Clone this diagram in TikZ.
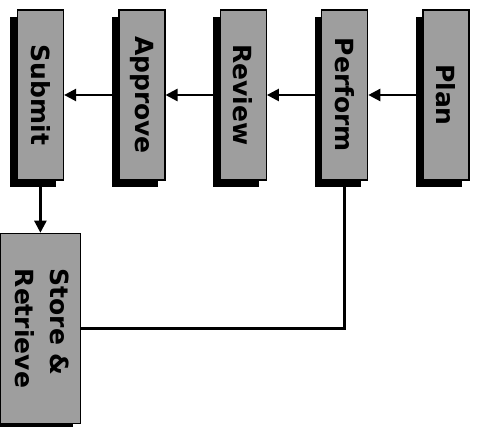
\documentclass[tikz,border=0pt]{standalone}
\usepackage{fontspec}
\newfontfamily\stagefont{DejaVu Sans}
\usetikzlibrary{arrows.meta,positioning,shadows}

\tikzset{
    stage/.style={draw=black, line width=1.4pt, fill=black!38, inner sep=0pt,
        minimum width=46pt, minimum height=170pt,
        font=\stagefont\bfseries\fontsize{25}{35}\selectfont,
        drop shadow={shadow xshift=-7pt, shadow yshift=-7pt, fill=black, opacity=1}},
    flow/.style={line width=2.4pt, -{Triangle[length=12pt,width=12pt]}},
    link/.style={line width=2.4pt}
}

\begin{document}
\begin{tikzpicture}[x=1pt,y=-1pt]
\useasboundingbox (0,0) rectangle (480,427);

% Stages, right to left
\node[stage] (plan) at (446,95) {\rotatebox{-90}{Plan}};
\node[stage, left=54pt of plan] (perform) {\rotatebox{-90}{Perform}};
\node[stage, left=54pt of perform] (review) {\rotatebox{-90}{Review}};
\node[stage, left=54pt of review] (approve) {\rotatebox{-90}{Approve}};
\node[stage, left=54pt of approve] (submit) {\rotatebox{-90}{Submit}};

% Storage
\node[stage, minimum width=80pt, minimum height=190pt, below=52pt of submit] (store)
    {\rotatebox{-90}{\begin{tabular}{@{}l@{}}Store \&\\Retrieve\end{tabular}}};

% Flow
\draw[flow] (plan) -- (perform);
\draw[flow] (perform) -- (review);
\draw[flow] (review) -- (approve);
\draw[flow] (approve) -- (submit);
\draw[flow] (submit.south) -- (submit.south |- store.north);
\draw[link] (store.east) -| (perform.south);

\end{tikzpicture}
\end{document}
